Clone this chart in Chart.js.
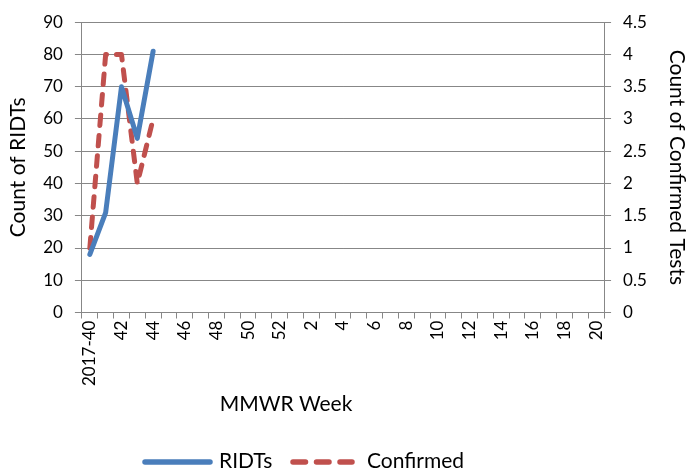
<!DOCTYPE html>
<html>
<head>
<meta charset="utf-8">
<script src="https://cdn.jsdelivr.net/npm/chart.js@4/dist/chart.umd.min.js"></script>
<style>
  html, body { margin: 0; padding: 0; background: #fff; }
  #wrap { width: 689px; height: 474px; }
</style>
</head>
<body>
<div id="wrap"><canvas id="lineChart" width="689" height="474"></canvas></div>
<script>
// weeks 2017-40 .. 2018-20
var weeks = ["2017-40", "41", "42", "43", "44", "45", "46", "47", "48", "49", "50", "51", "52",
    "1", "2", "3", "4", "5", "6", "7", "8", "9", "10", "11", "12", "13", "14", "15", "16", "17", "18", "19", "20"];
var ridts = [18, 31, 70, 54, 81];
var confirmed = [1, 4, 4, 2, 3];
var leftTicks = [0, 10, 20, 30, 40, 50, 60, 70, 80, 90];
var rightTicks = [0, 0.5, 1, 1.5, 2, 2.5, 3, 3.5, 4, 4.5];

var axisGray = '#878787';
var tickFont = { family: 'Lato', size: 17 };
var titleFont = { family: 'Lato', size: 21 };

// x title + legend drawn here so they sit where the original has them
var bottomText = {
    id: 'bottomText',
    afterDraw: function (chart) {
        var c = chart.ctx;
        c.save();
        c.fillStyle = '#000';
        c.font = '21px Lato';
        c.textBaseline = 'middle';
        c.textAlign = 'center';
        c.fillText('MMWR Week', 286, 404);

        var items = [[142, 213, 219], [290, 355, 367]];
        chart.data.datasets.forEach(function (ds, i) {
            var it = items[i];
            c.beginPath();
            c.strokeStyle = ds.borderColor;
            c.lineWidth = 5.5;
            c.lineCap = 'round';
            c.setLineDash(ds.borderDash ? [12.5, 11] : []);
            c.moveTo(it[0] + 3, 462);
            c.lineTo(it[1] - 3, 462);
            c.stroke();
            c.setLineDash([]);
            c.textAlign = 'left';
            c.fillText(ds.label, it[2], 461);
        });
        c.restore();
    }
};

var ctxL = document.getElementById("lineChart").getContext('2d');
var myLineChart = new Chart(ctxL, {
    type: 'line',
    data: {
        labels: weeks,
        datasets: [{
            label: "RIDTs",
            data: ridts,
            borderColor: '#4A7EBB',
            backgroundColor: '#4A7EBB',
            borderWidth: 5,
            borderCapStyle: 'round',
            borderJoinStyle: 'round',
            pointRadius: 0,
            tension: 0,
            yAxisID: 'y'
        }, {
            label: "Confirmed",
            data: confirmed,
            borderColor: '#C0504D',
            backgroundColor: '#C0504D',
            borderWidth: 5,
            borderDash: [10.5, 10],
            borderCapStyle: 'round',
            borderJoinStyle: 'round',
            pointRadius: 0,
            tension: 0,
            yAxisID: 'y1'
        }]
    },
    options: {
        responsive: false,
        animation: false,
        layout: { padding: { left: 0, right: 0, top: 11, bottom: 86 } },
        plugins: {
            tooltip: { enabled: false },
            legend: { display: false }
        },
        scales: {
            x: {
                offset: true,
                grid: { offset: true, drawOnChartArea: false, tickLength: 6, color: axisGray },
                border: { color: axisGray, width: 1 },
                ticks: {
                    autoSkip: false,
                    maxRotation: 90,
                    minRotation: 90,
                    padding: 2,
                    color: '#000',
                    font: tickFont,
                    callback: function (v, i) { return i % 2 === 0 ? weeks[i] : ''; }
                }
            },
            y: {
                position: 'left',
                min: 0, max: 90,
                afterBuildTicks: function (s) { s.ticks = leftTicks.map(function (v) { return { value: v }; }); },
                grid: { color: axisGray, tickLength: 7 },
                border: { color: axisGray },
                ticks: { color: '#000', font: tickFont, padding: 12 },
                title: { display: true, text: 'Count of RIDTs', color: '#000', font: titleFont, padding: { top: 6, bottom: 0 } }
            },
            y1: {
                position: 'right',
                min: 0, max: 4.5,
                afterBuildTicks: function (s) { s.ticks = rightTicks.map(function (v) { return { value: v }; }); },
                grid: { drawOnChartArea: false, color: axisGray, tickLength: 7 },
                border: { color: axisGray },
                ticks: { color: '#000', font: tickFont, padding: 12, callback: function (v) { return String(v); } },
                title: { display: true, text: 'Count of Confirmed Tests', color: '#000', font: titleFont, padding: { top: 0, bottom: 5 } }
            }
        }
    },
    plugins: [bottomText]
});
</script>
</body>
</html>
